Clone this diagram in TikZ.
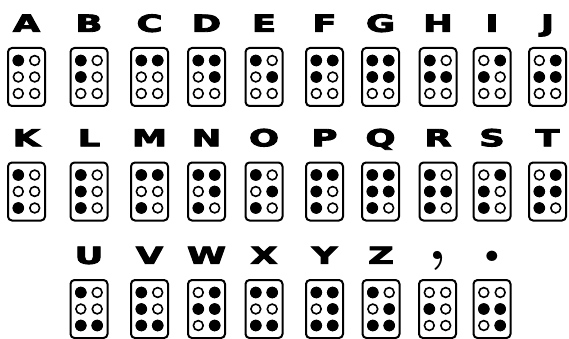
\documentclass[tikz,border=0pt]{standalone}
\usepackage{fontspec}
\usepackage{graphicx}
\newfontfamily\heavyfont[FakeBold=3.5]{DejaVu Sans Bold}
\usetikzlibrary{positioning}
\tikzset{
  cellbox/.style={
    rectangle, rounded corners=4pt,
    draw=black, fill=white, line width=2pt,
    minimum width=37pt, minimum height=58pt, inner sep=0pt
  },
  glyph/.style={font=\heavyfont\fontsize{23.5}{23.5}\selectfont,
    inner sep=0pt, text height=17pt, text depth=0pt},
  opendot/.style={draw=black, fill=white, line width=1.6pt},
  fulldot/.style={fill=black},
}
% punctuation: undo the wide letter scaling
\newcommand{\punct}[3]{\scalebox{0.7}[1]{\raisebox{#2}{\normalfont\bfseries\fontsize{#1}{#1}\selectfont #3}}}
% #1 x, #2 y, #3 name, #4 letter, #5 raised dots
\newcommand{\braille}[5]{%
  \node[cellbox] (cell#3) at (#1,#2) {};
  \node[glyph, above=15pt of cell#3] (lab#3) {\scalebox{1.5}[1]{#4}};
  \foreach \n/\dx/\dy in {1/-8.2/-16.5, 2/-8.2/0, 3/-8.2/16.5, 4/8.2/-16.5, 5/8.2/0, 6/8.2/16.5} {
    \coordinate (cell#3-\n) at ([shift={(\dx,\dy)}]cell#3.center);
    \draw[opendot] (cell#3-\n) circle (4.9pt);
  }
  \foreach \n in {#5} {
    \fill[fulldot] (cell#3-\n) circle (5.8pt);
  }
}

\begin{document}
\begin{tikzpicture}[x=1pt, y=-1pt]
  \useasboundingbox[fill=white] (0,0) rectangle (569,339);

  % a -- j
  \braille{26.5}{77}{A}{A}{1}
  \braille{89}{77}{B}{B}{1,2}
  \braille{149.5}{77}{C}{C}{1,4}
  \braille{206.5}{77}{D}{D}{1,4,5}
  \braille{264}{77}{E}{E}{1,5}
  \braille{324.5}{77}{F}{F}{1,2,4}
  \braille{380.5}{77}{G}{G}{1,2,4,5}
  \braille{438}{77}{H}{H}{1,2,5}
  \braille{492}{77}{I}{I}{2,4}
  \braille{547.5}{77}{J}{J}{2,4,5}

  % k -- t
  \braille{26.5}{191.5}{K}{K}{1,3}
  \braille{89}{191.5}{L}{L}{1,2,3}
  \braille{149.5}{191.5}{M}{M}{1,3,4}
  \braille{206.5}{191.5}{N}{N}{1,3,4,5}
  \braille{264}{191.5}{O}{O}{1,3,5}
  \braille{324.5}{191.5}{P}{P}{1,2,3,4}
  \braille{380.5}{191.5}{Q}{Q}{1,2,3,4,5}
  \braille{438}{191.5}{R}{R}{1,2,3,5}
  \braille{492}{191.5}{S}{S}{2,3,4}
  \braille{547.5}{191.5}{T}{T}{2,3,4,5}

  % u -- z, comma, period
  \braille{89}{309}{U}{U}{1,3,6}
  \braille{149.5}{309}{V}{V}{1,2,3,6}
  \braille{206.5}{309}{W}{W}{2,4,5,6}
  \braille{264}{309}{X}{X}{1,3,4,6}
  \braille{324.5}{309}{Y}{Y}{1,3,4,5,6}
  \braille{381}{309}{Z}{Z}{1,3,5,6}
  \braille{437.5}{309}{Comma}{\punct{56}{4pt}{,}}{2}
  \braille{492}{309}{Period}{\punct{72}{2pt}{.}}{2,5,6}
\end{tikzpicture}
\end{document}
